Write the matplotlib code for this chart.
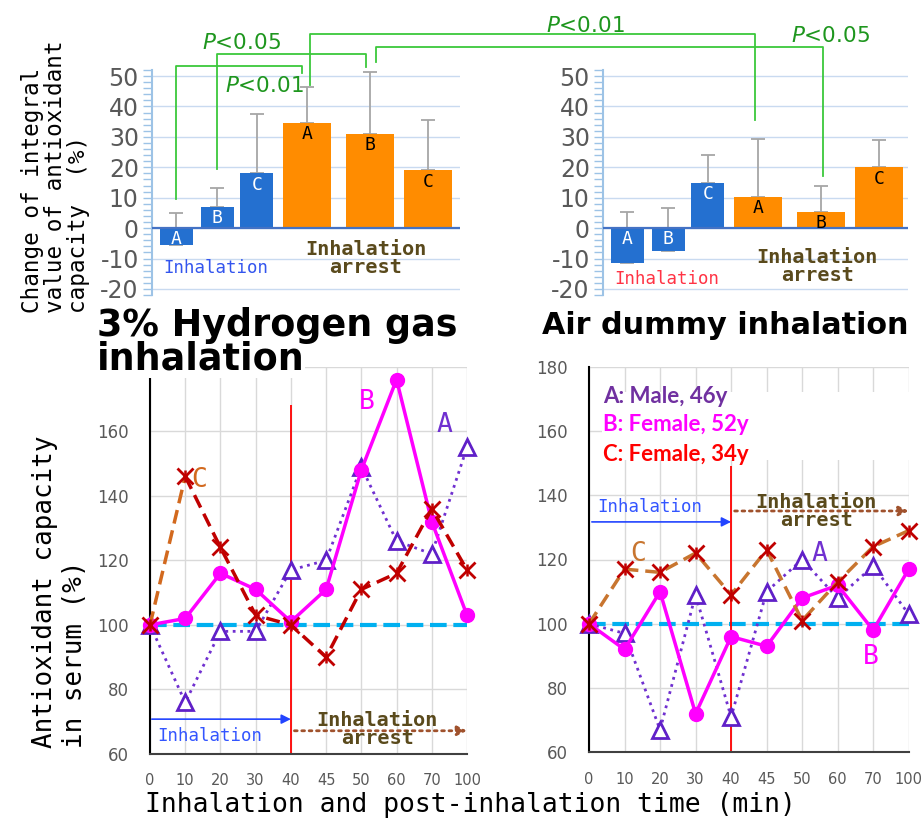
import numpy as np
import matplotlib
matplotlib.use('Agg')
import matplotlib.pyplot as plt
from matplotlib.lines import Line2D
from matplotlib.patches import Rectangle
from matplotlib.ticker import MultipleLocator

plt.rcParams['axes.unicode_minus'] = False

# ---- data: integral change of antioxidant capacity (top bar charts) ----
bar_labels = ['A', 'B', 'C', 'A', 'B', 'C']
h2_change = [-5.5, 7, 18, 34.5, 31, 19]
h2_err = [10.5, 6.3, 19.5, 12, 20.5, 16.5]
air_change = [-11.5, -7.5, 15, 10.3, 5.3, 20]
air_err = [16.7, 14.2, 8.9, 18.9, 8.4, 9]

# ---- data: antioxidant capacity in serum over time (bottom line charts) ----
times = ['0', '10', '20', '30', '40', '45', '50', '60', '70', '100']
h2_A = [100, 76, 98, 98, 117, 120, 149, 126, 122, 155]
h2_B = [100, 102, 116, 111, 101, 111, 148, 176, 132, 103]
h2_C = [100, 146, 124, 103, 100, 90, 111, 116, 136, 117]
air_A = [100, 97, 67, 109, 71, 110, 120, 108, 118, 103]
air_B = [100, 92, 110, 72, 96, 93, 108, 112, 98, 117]
air_C = [100, 117, 116, 122, 109, 123, 101, 113, 124, 129]
subjects = ['A: Male, 46y', 'B: Female, 52y', 'C: Female, 34y']

W, H = 922, 823
fig = plt.figure(figsize=(W / 100, H / 100), dpi=100)


def px_axes(x0, y0, x1, y1):
    return fig.add_axes([x0 / W, 1 - y1 / H, (x1 - x0) / W, (y1 - y0) / H])


MONO = 'DejaVu Sans Mono'
BLUE = '#2470D0'
ORANGE = '#FF8C00'
PURPLE = '#7030D0'
MAGENTA = '#FF00FF'
DARKRED = '#C00000'
BROWN_TXT = '#5A4A1C'

# bar positions (two glued groups, blue narrower than orange)
xpos = [0.61, 1.63, 2.62, 3.88, 5.45, 6.9]
widths = [0.83] * 3 + [1.2] * 3
colors = [BLUE] * 3 + [ORANGE] * 3


def bar_chart(ax, vals, errs, xmax, inh_color, inh_y, arrest_y):
    ax.set_xlim(0, xmax)
    ax.set_ylim(-22, 52)
    ax.bar(xpos, vals, width=widths, color=colors, zorder=3)
    ax.errorbar(xpos, vals, yerr=[np.zeros(len(errs)), errs], fmt='none',
                ecolor='#A6A6A6', elinewidth=1.3, capsize=5, capthick=1.3, zorder=2)
    ax.axhline(0, color='#4472C4', lw=1.6, zorder=4)
    for x, v, lab, c in zip(xpos, vals, bar_labels, colors):
        ty = v - 3.7 if v > 0 else -3.7
        ax.text(x, ty, lab, ha='center', va='center', family=MONO, fontsize=13,
                color='white' if c == BLUE else 'black', zorder=5)
    ax.text(1.6, inh_y, 'Inhalation', color=inh_color, family=MONO, fontsize=12.5,
            ha='center', va='center')
    ax.text(5.35, arrest_y, 'Inhalation\narrest', color=BROWN_TXT, family=MONO,
            fontsize=14.5, fontweight='bold', ha='center', va='center', linespacing=0.95)
    ax.yaxis.set_major_locator(MultipleLocator(10))
    ax.yaxis.set_minor_locator(MultipleLocator(2))
    ax.set_yticks(range(-20, 51, 10))
    ax.grid(axis='y', color='#C9DAF0', lw=1, zorder=0)
    for s in ['top', 'right', 'bottom']:
        ax.spines[s].set_visible(False)
    ax.spines['left'].set_color('#9DC3E6')
    ax.spines['left'].set_linewidth(1.5)
    ax.tick_params(axis='y', which='both', color='#9DC3E6', length=6.5, width=1,
                   labelsize=17, labelcolor='#595959', pad=3)
    ax.set_xticks([])


axTL = px_axes(152, 70, 460, 295)
bar_chart(axTL, h2_change, h2_err, 7.7, '#3355EE', -13, -10)
axTR = px_axes(603, 70, 908, 295)
bar_chart(axTR, air_change, air_err, 7.625, '#FF3344', -16.8, -12.6)


def to_fig(ax, x, y):
    return fig.transFigure.inverted().transform(ax.transData.transform((x, y)))


# significance brackets: (axis, x, y) -> level (px from top) -> (axis, x, y)
brackets = [
    (axTL, xpos[0], 9.5, 66, axTL, xpos[3] - 0.12, 51),
    (axTL, xpos[1], 19.5, 54, axTL, xpos[4] - 0.09, 53),
    (axTL, xpos[3] + 0.08, 47, 34, axTR, xpos[3] - 0.09, 35.7),
    (axTL, xpos[4] + 0.15, 54.5, 47, axTR, xpos[4] + 0.04, 17.3),
]
for a1, x1, y1, lev, a2, x2, y2 in brackets:
    p1 = to_fig(a1, x1, y1)
    p2 = to_fig(a2, x2, y2)
    ly = 1 - lev / H
    fig.add_artist(Line2D([p1[0], p1[0], p2[0], p2[0]], [p1[1], ly, ly, p2[1]],
                          color='#3CC83C', lw=1.3, transform=fig.transFigure))

p_texts = [('$P$<0.05', 242, 43), ('$P$<0.01', 264, 86), ('$P$<0.01', 585, 26),
           ('$P$<0.05', 831, 36)]
for s, x, y in p_texts:
    fig.text(x / W, 1 - y / H, s, color='#1E961E', fontsize=15.5, ha='center', va='center')

fig.text(55 / W, 1 - 313 / H, 'Change of integral\nvalue of antioxidant\ncapacity  (%)',
         rotation=90, ha='center', va='bottom', multialignment='left', family=MONO,
         fontsize=16.3, linespacing=1.0)

# ---- bottom line charts ----
idx = np.arange(len(times))


def line_chart(ax, A, B, C, c_first, c_rest, vtop):
    ax.set_xlim(0, 9)
    ax.set_ylim(60, 180)
    ax.set_xticks(idx)
    ax.set_xticklabels(times)
    ax.set_yticks(range(60, 181, 20))
    ax.set_axisbelow(True)
    ax.grid(color='#D9D9D9', lw=1)
    for s in ['top', 'right']:
        ax.spines[s].set_visible(False)
    ax.spines['left'].set_linewidth(1.5)
    ax.spines['bottom'].set_linewidth(1.5)
    ax.spines['bottom'].set_color('#404040')
    ax.tick_params(axis='both', length=0, labelcolor='#595959')
    ax.tick_params(axis='x', labelsize=10.5, pad=14)
    ax.tick_params(axis='y', labelsize=12, pad=15)
    ax.axhline(100, color='#00B0F0', ls=(0, (4, 1.6)), lw=3, zorder=1.5)
    ax.vlines(4, 60, vtop, color='red', lw=1.3, zorder=2)
    ax.plot(idx, A, color=PURPLE, ls=':', lw=2, marker='^', ms=11, mfc='white',
            mec='#6020C8', mew=2, zorder=3, clip_on=False)
    ax.plot(idx, B, color=MAGENTA, lw=2.5, marker='o', ms=10, zorder=4, clip_on=False)
    ax.plot(idx[:2], C[:2], color=c_first, ls=(0, (4, 2)), lw=2.5, zorder=5)
    ax.plot(idx[1:], C[1:], color=c_rest, ls=(0, (4, 2)), lw=2.5, zorder=5)
    # Excel-style star: an x with a short vertical stroke
    ax.plot(idx, C, ls='none', marker='x', ms=12, mec=DARKRED, mew=2,
            zorder=6, clip_on=False)
    ax.plot(idx, C, ls='none', marker='|', ms=9, mec=DARKRED, mew=1.8,
            zorder=6, clip_on=False)


axBL = px_axes(150, 366.7, 467, 754)
line_chart(axBL, h2_A, h2_B, h2_C, '#D2691E', DARKRED, 168)
axBL.set_yticklabels(['60', '80', '100', '120', '140', '160', ''])
axBR = px_axes(589, 366.7, 908.7, 752.3)
line_chart(axBR, air_A, air_B, air_C, '#C8752F', '#C8752F', 149)


def arrows(ax, inh_y, inh_txt, arr_y, arrest_x, arrest_y, x_start=0.05):
    ax.annotate('', xy=(4, inh_y), xytext=(x_start, inh_y),
                arrowprops=dict(arrowstyle='-|>', color='#2244FF', lw=1.2,
                                shrinkA=0, shrinkB=0, mutation_scale=14))
    ax.annotate('', xy=(9, arr_y), xytext=(4.1, arr_y),
                arrowprops=dict(arrowstyle='-|>', color='#A0522D', lw=2, ls=':',
                                shrinkA=0, shrinkB=0, mutation_scale=14))
    ax.text(1.7, inh_txt, 'Inhalation', color='#3355FF', family=MONO, fontsize=12.5,
            ha='center', va='center')
    ax.text(arrest_x, arrest_y, 'Inhalation\narrest', color=BROWN_TXT, family=MONO,
            fontsize=14.5, fontweight='bold', ha='center', va='center', linespacing=0.95)


arrows(axBL, 70.8, 65.6, 67.2, 6.45, 67.6)
arrows(axBR, 131.7, 136.4, 135.1, 6.4, 135, x_start=0.08)

# series letters
axBL.text(1.4, 145, 'C', color='#D2691E', family=MONO, fontsize=19, ha='center', va='center')
axBL.text(6.16, 169, 'B', color=MAGENTA, family=MONO, fontsize=19, ha='center', va='center')
axBL.text(8.35, 162, 'A', color=PURPLE, family=MONO, fontsize=19, ha='center', va='center')
axBR.text(1.39, 121.7, 'C', color='#C8752F', family=MONO, fontsize=19, ha='center', va='center')
axBR.text(6.5, 121.7, 'A', color=PURPLE, family=MONO, fontsize=19, ha='center', va='center')
axBR.text(7.93, 89.7, 'B', color=MAGENTA, family=MONO, fontsize=19, ha='center', va='center')

# legend box with subject descriptions
axBR.add_patch(Rectangle((0.37, 151), 8.63, 21, facecolor='white', edgecolor='none', zorder=2.5))
for s, c, y in zip(subjects, ['#7030A0', MAGENTA, 'red'], [170.7, 161.9, 152.6]):
    axBR.text(0.39, y, s, color=c, family='Lato', fontweight='bold', fontsize=16,
              ha='left', va='center', zorder=7)

fig.text(60 / W, 1 - 748 / H, 'Antioxidant capacity\nin serum (%)', rotation=90,
         ha='center', va='bottom', multialignment='left', family=MONO, fontsize=18.6,
         linespacing=1.25)
fig.text(470 / W, 1 - 805 / H, 'Inhalation and post-inhalation time (min)',
         ha='center', va='center', family=MONO, fontsize=19)

# titles; only the second left line sits over the axes and needs a white box
title_kw = dict(family='DejaVu Sans', fontweight='bold', ha='left', va='baseline')
fig.text(97 / W, 1 - 370 / H, 'inhalation', fontsize=26.3, zorder=10,
         bbox=dict(facecolor='white', edgecolor='none', pad=0), **title_kw)
fig.text(97 / W, 1 - 336 / H, '3% Hydrogen gas', fontsize=26.3, zorder=11, **title_kw)
fig.text(542 / W, 1 - 334 / H, 'Air dummy inhalation', fontsize=21.8, zorder=10, **title_kw)

fig.savefig('out.png', dpi=100)
